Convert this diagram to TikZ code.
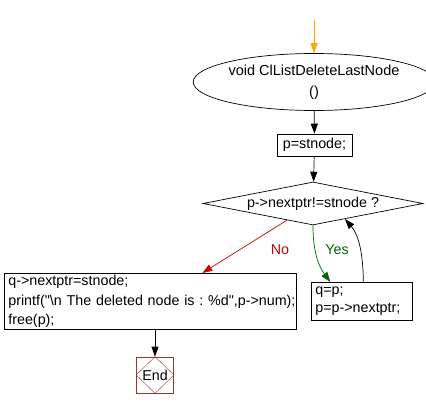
\documentclass[tikz,border=0pt]{standalone}
\usepackage{fontspec}
\setmainfont[Ligatures=NoCommon]{Liberation Sans}
\usetikzlibrary{arrows.meta,shapes.geometric,calc}
\definecolor{noRed}{HTML}{CC0000}
\definecolor{yesGreen}{HTML}{006600}
\definecolor{endRed}{HTML}{993333}
\definecolor{startOrange}{HTML}{FFA500}
\frenchspacing
\begin{document}
\begin{tikzpicture}[x=1pt,y=-1pt,
  font=\fontsize{14.3}{19}\selectfont,
  arr/.style={-{Triangle[length=10pt,width=7pt]}, line width=0.7pt},
  box/.style={draw, line width=0.7pt, inner sep=0pt}]
\useasboundingbox (0,0) rectangle (426,409);
\coordinate (s) at (314,20);
\node[ellipse, draw, line width=0.7pt, minimum width=199pt, minimum height=57pt, inner sep=0pt, align=center, font=\fontsize{14.5}{21}\selectfont] (start) at (314,82) {void ClListDeleteLastNode\\()};
\node[box, minimum width=75pt, minimum height=22pt] (p) at (314.5,145) {p=stnode;};
\node[diamond, draw, line width=0.7pt, minimum width=220pt, minimum height=43pt, inner sep=0pt, aspect=5] (d) at (313,203.5) {p->nextptr!=stnode ?};
\node[box, anchor=north west, minimum width=292pt, minimum height=56pt, inner xsep=4pt, text width=284pt, align=left, font=\fontsize{14.3}{19.5}\selectfont] (lb) at (4,273) {\mbox{q->nextptr=stnode;}\\\mbox{printf(\textquotedbl\textbackslash n The deleted node is : \%d\textquotedbl,p->num);}\\\mbox{free(p);}};
\node[box, anchor=north west, minimum width=101pt, minimum height=38pt, inner xsep=4pt, text width=93pt, align=left, font=\fontsize{14.3}{18}\selectfont] (rb) at (311,282) {q=p;\\\mbox{p=p->nextptr;}};
\node[draw=endRed, line width=0.7pt, minimum width=37pt, minimum height=36pt, inner sep=0pt] (e) at (155,375) {End};
\draw[endRed, line width=0.4pt] (e.north) -- (e.east) -- (e.south) -- (e.west) -- cycle;
\draw[arr, startOrange] (s) -- (start.north);
\draw[arr] (start) -- (p);
\draw[arr] (p) -- (d);
\draw[arr, noRed] ($(d.west)!0.764!(d.south)$) -- ([xshift=52pt]lb.north);
\node[noRed] (no) at (280,250) {No};
\draw[arr, yesGreen] (d.south) .. controls (313,255) and (320,268) .. ([xshift=-31.5pt]rb.north);
\node[yesGreen] (yes) at (337,250) {Yes};
\draw[arr] ([xshift=1.5pt]rb.north) .. controls (363,245) and (356,232) .. ($(d.south)!0.29!(d.east)$);
\draw[arr] (lb.south -| e.north) -- (e.north);
\end{tikzpicture}
\end{document}
